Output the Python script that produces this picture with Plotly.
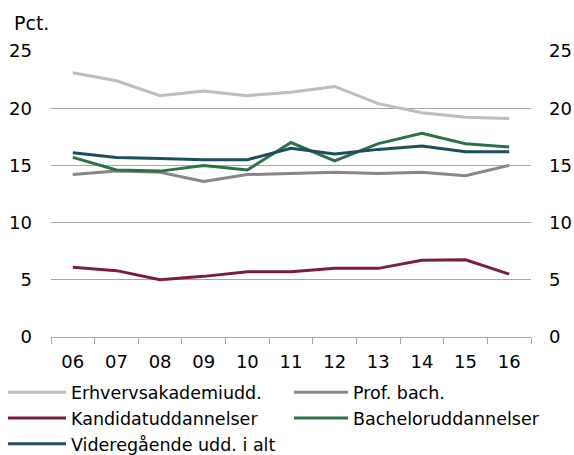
import plotly.graph_objects as go

# --- DATA ---
years = ["06", "07", "08", "09", "10", "11", "12", "13", "14", "15", "16"]
erhverv = [23.1, 22.4, 21.1, 21.5, 21.1, 21.4, 21.9, 20.4, 19.6, 19.2, 19.1]
prof_bach = [14.2, 14.5, 14.4, 13.6, 14.2, 14.3, 14.4, 14.3, 14.4, 14.1, 15.0]
kandidat = [6.1, 5.8, 5.0, 5.3, 5.7, 5.7, 6.0, 6.0, 6.7, 6.75, 5.5]
bachelor = [15.7, 14.6, 14.5, 15.0, 14.6, 17.0, 15.4, 16.9, 17.8, 16.9, 16.6]
videregaaende = [16.1, 15.7, 15.6, 15.5, 15.5, 16.5, 16.0, 16.4, 16.7, 16.2, 16.2]

# name, values, colour, legend column
series = [
    ("Erhvervsakademiudd.", erhverv, "#BDBDBD", "legend"),
    ("Prof. bach.", prof_bach, "#878787", "legend2"),
    ("Kandidatuddannelser", kandidat, "#7B1D40", "legend"),
    ("Bacheloruddannelser", bachelor, "#2D7245", "legend2"),
    ("Videregående udd. i alt", videregaaende, "#1B4E5E", "legend"),
]

FONT = "DejaVu Sans, Arial, sans-serif"

fig = go.Figure()
for name, vals, col, leg in series:
    fig.add_trace(go.Scatter(x=years, y=vals, name=name, mode="lines", legend=leg,
                             line=dict(color=col, width=3)))

# invisible trace so the right axis shows up
fig.add_trace(go.Scatter(x=years, y=erhverv, yaxis="y2", mode="lines",
                         line=dict(width=0), showlegend=False, hoverinfo="skip"))

yax = dict(range=[0, 25], tickvals=[0, 5, 10, 15, 20, 25], showgrid=True,
           gridcolor="#A6A6A6", gridwidth=1, zeroline=False,
           tickfont=dict(size=18, color="#000000"), ticks="")

leg_common = dict(orientation="v", xanchor="left", y=-0.131, yanchor="top",
                  font=dict(size=17.5), bgcolor="rgba(0,0,0,0)")

fig.update_layout(
    width=574, height=455,
    paper_bgcolor="white", plot_bgcolor="white",
    font=dict(family=FONT, size=18, color="#000000"),
    margin=dict(l=51, r=43, t=51, b=118, autoexpand=False),
    xaxis=dict(type="category", tickson="boundaries", ticks="outside", ticklen=6,
               tickcolor="#A6A6A6", showline=True, linecolor="#A6A6A6", linewidth=1,
               showgrid=False, tickangle=0, tickfont=dict(size=18),
               range=[-0.5, 10.5], ticklabelstandoff=8),
    yaxis=dict(**yax, ticklabelstandoff=18),
    yaxis2=dict(**yax, overlaying="y", side="right", ticklabelstandoff=17),
    legend=dict(**leg_common, x=-48/480, itemwidth=58),
    legend2=dict(**leg_common, x=238/480, itemwidth=54),
    annotations=[dict(text="Pct.", xref="paper", yref="paper", x=-39/480, y=1 + 28/286,
                      xanchor="left", yanchor="middle", showarrow=False,
                      font=dict(size=19))],
    showlegend=True,
)

# drop the browser's default body margin so the figure fills the window
fig.write_html("out.html", config={"displayModeBar": False},
               post_script="document.body.style.margin='0';")
